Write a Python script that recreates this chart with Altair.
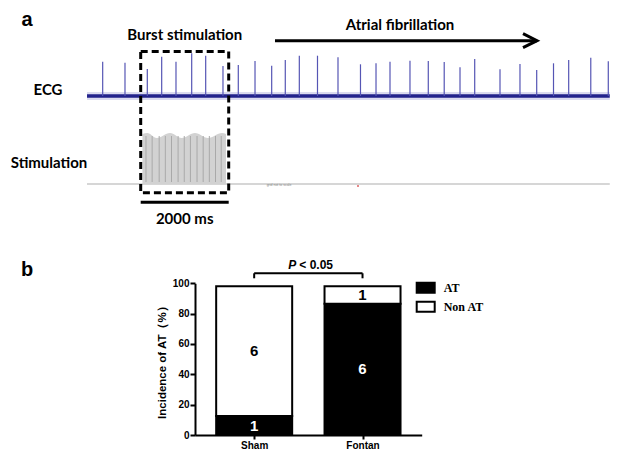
import json
import altair as alt
import pandas as pd

# ---------------- panel a : ECG recording (time in ms, burst starts at 0) ----------------
spike_t = [-864, -357, 150, 477, 802, 1159, 1477, 1870, 2218, 2598, 2977, 3286, 3605,
           4018, 4484, 4995, 5348, 5666, 6120, 6536, 6898, 7257, 7591, 8166, 8620,
           9000, 9382, 9727, 10229, 10627]
spike_h = [34.3, 33.3, 27, 39.3, 34.3, 42.7, 40.3, 30, 31, 35, 30.3, 36, 40.3, 40.3,
           38.7, 31.7, 32.7, 34.3, 35.3, 35, 34, 28.7, 37, 26.7, 32, 26, 32.7, 36,
           38.3, 34.7]
trace_span = [-1220, 10660]
burst_window = [0, 2000]
stim_env_t = [40, 150, 364, 666, 932, 1234, 1530, 1848, 1939]
stim_env_top = [-38, -37, -42, -37, -42, -37, -42, -37, -38]
stim_floor = -88
pulse_t = [120, 260, 420, 560, 700, 850, 990, 1130, 1280, 1420, 1560, 1700, 1830]
af_arrow = [3052, 9009]

# ---------------- panel b : incidence of AT ----------------
groups = ["Sham", "Fontan"]
status = ["AT", "Non AT"]
at_pct = [12.5, 86.5]
nonat_pct = [85.5, 11.5]
at_n = [1, 6]
nonat_n = [6, 1]
y_ticks = [0, 20, 40, 60, 80, 100]

XA = alt.Scale(domain=[0, 2000], range=[132.7, 220.7], nice=False, zero=False)
YA = alt.Scale(domain=[0, 100], range=[88, -12], nice=False, zero=False)
XB = alt.Scale(domain=[-0.5, 1.5], range=[187, 413.7], nice=False, zero=False)
YB = alt.Scale(domain=[0, 100], range=[427, 275.3], nice=False, zero=False)

def xa(f):
    return alt.X(f, type="quantitative", scale=XA, axis=None)

def ya(f):
    return alt.Y(f, type="quantitative", scale=YA, axis=None)

SANS = "Liberation Sans"
LBL = "Lato"

base_df = pd.DataFrame({"t": [trace_span[0]], "t2": [trace_span[1]], "v": [0], "f": [stim_floor]})
halo = alt.Chart(base_df).mark_rule(color="#6f6fc0", strokeWidth=8, opacity=0.25).encode(
    x=xa("t"), x2="t2", y=ya("v"))
core = alt.Chart(base_df).mark_rule(color="#23238c", strokeWidth=3.5).encode(
    x=xa("t"), x2="t2", y=ya("v"))
floor = alt.Chart(base_df).mark_rule(color="#c8c8c8", strokeWidth=1.5).encode(
    x=xa("t"), x2="t2", y=ya("f"))

spk_df = pd.DataFrame({"t": spike_t, "h": spike_h, "z": 0})
spikes = alt.Chart(spk_df).mark_rule(color="#5555b4", strokeWidth=1.2).encode(
    x=xa("t"), y=ya("z"), y2="h")

env_df = pd.DataFrame({"t": stim_env_t, "top": stim_env_top, "f": stim_floor})
stim = alt.Chart(env_df).mark_area(color="#d2d2d2", interpolate="monotone").encode(
    x=xa("t"), y=ya("top"), y2="f")
pul_df = pd.DataFrame({"t": pulse_t, "top": -40, "f": stim_floor + 2})
pulses = alt.Chart(pul_df).mark_rule(color="#a9a9a9", strokeWidth=1).encode(
    x=xa("t"), y=ya("top"), y2="f")

box_df = pd.DataFrame({"t": [burst_window[0]], "t2": [burst_window[1]], "v": [44.5], "v2": [-96.7],
                       "s": [-106.3]})
box = alt.Chart(box_df).mark_rect(fillOpacity=0, stroke="black", strokeWidth=3,
                                  strokeDash=[7, 4]).encode(x=xa("t"), x2="t2", y=ya("v"), y2="v2")
sbar = alt.Chart(box_df).mark_rule(color="black", strokeWidth=3).encode(
    x=xa("t"), x2="t2", y=ya("s"))

arr_df = pd.DataFrame({"t": [af_arrow[0]], "t2": [af_arrow[1]], "v": [55.3], "h": [af_arrow[1] - 161]})
arr_line = alt.Chart(arr_df).mark_rule(color="black", strokeWidth=3).encode(
    x=xa("t"), x2="t2", y=ya("v"))
arr_head = alt.Chart(arr_df).mark_point(shape="M-1,-1L1,0L-1,1", filled=False, size=196,
                                        stroke="black", strokeWidth=3, opacity=1).encode(
    x=xa("h"), y=ya("v"))

def label(text, t, v, size, font=LBL, weight="bold", color="black", align="center"):
    d = pd.DataFrame({"t": [t], "v": [v], "s": [text]})
    return alt.Chart(d).mark_text(font=font, fontSize=size, fontWeight=weight, color=color,
                                  align=align, baseline="middle").encode(
        x=xa("t"), y=ya("v"), text="s:N")

texts_a = [
    label("a", -2584, 76, 20, font=SANS),
    label("b", -2584, -174, 20, font=SANS),
    label("ECG", -2107, 6, 15),
    label("Stimulation", -2084, -67, 15),
    label("Burst stimulation", 1000, 61, 15),
    label("Atrial fibrillation", 5893, 71, 15),
    label("2000 ms", 1000, -123, 15),
    label("grid not to scale", 3143, -89, 3.5, font=SANS, weight="normal", color="#888888"),
]
dot = alt.Chart(pd.DataFrame({"t": [4939], "v": [-90]})).mark_point(
    filled=True, color="#d02020", size=4).encode(x=xa("t"), y=ya("v"))

panel_a = alt.layer(floor, stim, pulses, halo, core, spikes, box, sbar, arr_line, arr_head,
                    dot, *texts_a)

# ---------------- panel b ----------------
rows = []
for i, g in enumerate(groups):
    rows.append({"group": g, "idx": i, "status": status[0], "y0": 0, "y1": at_pct[i], "n": at_n[i]})
    rows.append({"group": g, "idx": i, "status": status[1], "y0": at_pct[i],
                 "y1": at_pct[i] + nonat_pct[i], "n": nonat_n[i]})
bdf = pd.DataFrame(rows)
bdf["ymid"] = (bdf["y0"] + bdf["y1"]) / 2

label_expr = json.dumps(groups) + "[datum.value]"
xaxis = alt.Axis(orient="bottom", offset=-15, values=[0, 1], labelExpr=label_expr, title=None,
                 grid=False, domainColor="black", domainWidth=2, tickColor="black", tickWidth=2,
                 tickSize=4, labelFont=SANS, labelFontSize=10, labelFontWeight="bold",
                 labelColor="black", labelPadding=1)
yaxis = alt.Axis(orient="left", offset=-187, values=y_ticks, title="Incidence of AT（%）",
                 grid=False, domainColor="black", domainWidth=2, tickColor="black", tickWidth=2,
                 tickSize=5, labelFont=SANS, labelFontSize=10, labelFontWeight="bold",
                 labelColor="black", labelPadding=1, titleFont=SANS, titleFontSize=11.5,
                 titleFontWeight="bold", titleColor="black", titlePadding=5)

bars = alt.Chart(bdf).mark_bar(size=76, stroke="black", strokeWidth=2).encode(
    x=alt.X("idx:Q", scale=XB, axis=xaxis),
    y=alt.Y("y0:Q", scale=YB, axis=yaxis),
    y2="y1",
    color=alt.Color("status:N", scale=alt.Scale(domain=status, range=["black", "white"]),
                    legend=alt.Legend(orient="none", legendX=407.7, legendY=269.7, title=None,
                                      padding=0, rowPadding=0,
                                      symbolType="M-1,-0.55H1V0.55H-1Z", symbolSize=324,
                                      symbolStrokeColor="black", symbolStrokeWidth=2,
                                      labelFont="Liberation Serif", labelFontSize=12,
                                      labelFontWeight="bold", labelColor="black",
                                      labelOffset=8)),
)
nums = alt.Chart(bdf).mark_text(font=SANS, fontSize=15, fontWeight="bold", baseline="middle").encode(
    x=alt.X("idx:Q", scale=XB), y=alt.Y("ymid:Q", scale=YB), text="n:N",
    color=alt.condition(alt.datum.status == status[0], alt.value("white"), alt.value("black")))

br_df = pd.DataFrame({"a": [0], "b": [1], "top": [106.6], "low": [103.3], "mid": [0.5], "ty": [109.6]})
br_h = alt.Chart(br_df).mark_rule(color="black", strokeWidth=2).encode(
    x=alt.X("a:Q", scale=XB), x2="b", y=alt.Y("top:Q", scale=YB))
br_l = alt.Chart(br_df).mark_rule(color="black", strokeWidth=2).encode(
    x=alt.X("a:Q", scale=XB), y=alt.Y("top:Q", scale=YB), y2="low")
br_r = alt.Chart(br_df).mark_rule(color="black", strokeWidth=2).encode(
    x=alt.X("b:Q", scale=XB), y=alt.Y("top:Q", scale=YB), y2="low")
p_it = alt.Chart(br_df).mark_text(text="P", font=SANS, fontSize=12, fontWeight="bold",
                                  fontStyle="italic", align="left", dx=-20,
                                  baseline="alphabetic").encode(
    x=alt.X("mid:Q", scale=XB), y=alt.Y("ty:Q", scale=YB))
p_val = alt.Chart(br_df).mark_text(text="< 0.05", font=SANS, fontSize=12, fontWeight="bold",
                                   align="left", dx=-9, baseline="alphabetic").encode(
    x=alt.X("mid:Q", scale=XB), y=alt.Y("ty:Q", scale=YB))

panel_b = alt.layer(bars, nums, br_h, br_l, br_r, p_it, p_val)

chart = alt.layer(panel_a, panel_b).resolve_scale(
    x="independent", y="independent"
).properties(width=608, height=442, padding=0, autosize="none", background="white"
).configure_view(stroke=None)

chart.save("out.html", embed_options={"renderer": "svg", "actions": False})
